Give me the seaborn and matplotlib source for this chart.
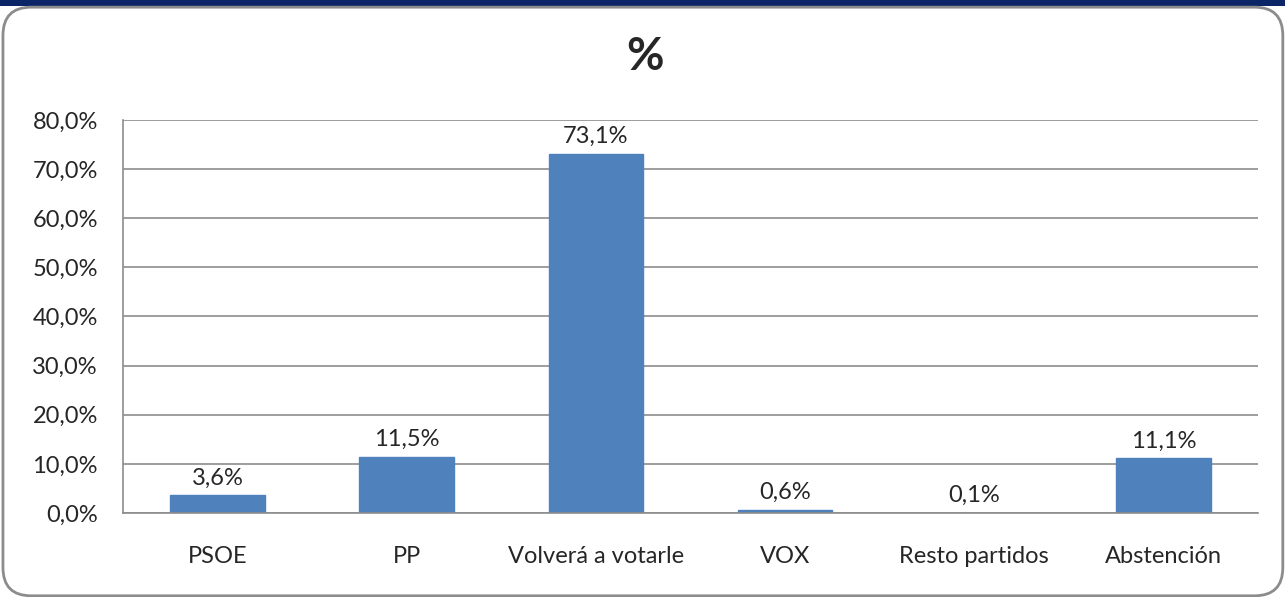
import seaborn as sns
import matplotlib.pyplot as plt
import pandas as pd
from matplotlib.patches import FancyBboxPatch, Rectangle
from matplotlib.ticker import FuncFormatter

# Data
categorias = ["PSOE", "PP", "Volverá a votarle", "VOX", "Resto partidos", "Abstención"]
porcentajes = [3.6, 11.5, 73.1, 0.6, 0.1, 11.1]
etiquetas = ["3,6%", "11,5%", "73,1%", "0,6%", "0,1%", "11,1%"]

df = pd.DataFrame({"categoria": categorias, "pct": porcentajes})

sns.set_style("white")
plt.rcParams["font.family"] = ["Lato", "DejaVu Sans"]

fig = plt.figure(figsize=(12.85, 5.97), dpi=100)

# top navy band and rounded frame
fig.patches.append(Rectangle((0, 0.99), 1, 0.01, transform=fig.transFigure,
                             facecolor="#0B2566", edgecolor="none", zorder=0))
fig.patches.append(FancyBboxPatch((0.0023, 0.002), 0.996, 0.986,
                                  boxstyle="round,pad=0,rounding_size=0.022",
                                  transform=fig.transFigure, facecolor="white",
                                  edgecolor="#8C8C8C", linewidth=2, zorder=1,
                                  mutation_aspect=12.85 / 5.97))

ax = fig.add_axes([0.0957, 0.1407, 0.8833, 0.6583])
ax.set_zorder(2)
sns.barplot(data=df, x="categoria", y="pct", color="#4F81BD", width=0.5,
            saturation=1, ax=ax, edgecolor="#4F81BD")

ax.set_ylim(0, 80)
ax.set_xlim(-0.5, len(categorias) - 0.5)
ax.set_yticks(range(0, 81, 10))
ax.yaxis.set_major_formatter(FuncFormatter(lambda v, p: f"{v:.1f}%".replace(".", ",")))
ax.yaxis.grid(True, color="#8C8C8C", linewidth=1.2)
ax.set_axisbelow(True)

for s in ["top", "right"]:
    ax.spines[s].set_visible(False)
ax.spines["left"].set_color("#8C8C8C")
ax.spines["bottom"].set_color("#8C8C8C")
ax.spines["left"].set_linewidth(1.2)
ax.spines["bottom"].set_linewidth(1.2)

# category ticks between the bars
ax.set_xticks([i - 0.5 for i in range(len(categorias) + 1)], minor=True)
ax.tick_params(axis="x", which="minor", length=7, color="#8C8C8C", width=1.2)
ax.tick_params(axis="x", which="major", length=0, pad=24, labelsize=17)
ax.tick_params(axis="y", length=8, color="#8C8C8C", width=1.2, labelsize=17, pad=10)
ax.set_xlabel("")
ax.set_ylabel("")

for i, (v, t) in enumerate(zip(porcentajes, etiquetas)):
    ax.annotate(t, (i, v), xytext=(0, 5), textcoords="offset points",
                ha="center", va="bottom", fontsize=17)

fig.text(0.502, 0.9045, "%", ha="center", va="center", fontsize=33, fontweight="bold", zorder=3)

fig.savefig("out.png", dpi=100)
